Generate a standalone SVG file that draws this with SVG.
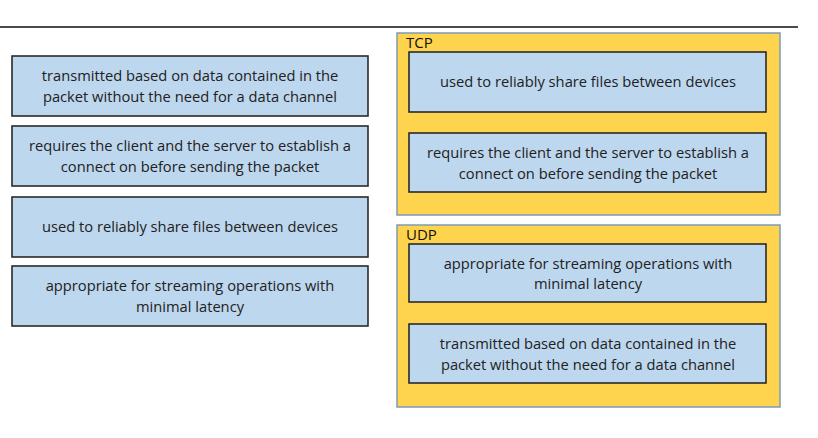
<svg xmlns="http://www.w3.org/2000/svg" width="818" height="438" viewBox="0 0 818 438">
<style>
.box{fill:#bdd7ee;stroke:#2a2a2a;stroke-width:1.6}
.grp{fill:#fed34d;stroke:#7d9bb8;stroke-width:1.5}
.t{font-family:"Open Sans","Liberation Sans",sans-serif;font-size:14.7px;fill:#222;text-anchor:middle}
.lbl{font-family:"Open Sans","Liberation Sans",sans-serif;font-size:15px;fill:#111}
</style>
<rect width="818" height="438" fill="#fff"/>
<line x1="0" y1="27" x2="798" y2="27" stroke="#111" stroke-width="1.5"/>
<g id="left1"><rect class="box" x="12" y="56" width="356" height="60"/>
<text class="t" x="190" y="81">transmitted based on data contained in the</text>
<text class="t" x="190" y="102">packet without the need for a data channel</text></g>
<g id="left2"><rect class="box" x="12" y="126" width="356" height="60"/>
<text class="t" x="190" y="151">requires the client and the server to establish a</text>
<text class="t" x="190" y="172">connect on before sending the packet</text></g>
<g id="left3"><rect class="box" x="12" y="197" width="356" height="60"/>
<text class="t" x="190" y="232">used to reliably share files between devices</text></g>
<g id="left4"><rect class="box" x="12" y="266" width="356" height="60"/>
<text class="t" x="190" y="291">appropriate for streaming operations with</text>
<text class="t" x="190" y="312">minimal latency</text></g>
<g id="tcp"><rect class="grp" x="397" y="33" width="383" height="182"/>
<text class="lbl" x="406" y="48">TCP</text>
<g id="tcp1"><rect class="box" x="409" y="52" width="357" height="60"/>
<text class="t" x="588" y="87">used to reliably share files between devices</text></g>
<g id="tcp2"><rect class="box" x="409" y="133" width="357" height="59"/>
<text class="t" x="588" y="158">requires the client and the server to establish a</text>
<text class="t" x="588" y="179">connect on before sending the packet</text></g></g>
<g id="udp"><rect class="grp" x="397" y="225" width="383" height="182"/>
<text class="lbl" x="406" y="240">UDP</text>
<g id="udp1"><rect class="box" x="409" y="244" width="357" height="58"/>
<text class="t" x="588" y="269">appropriate for streaming operations with</text>
<text class="t" x="588" y="289">minimal latency</text></g>
<g id="udp2"><rect class="box" x="409" y="324" width="357" height="59"/>
<text class="t" x="588" y="349">transmitted based on data contained in the</text>
<text class="t" x="588" y="370">packet without the need for a data channel</text></g></g>
<g id="connectors"></g>
</svg>
